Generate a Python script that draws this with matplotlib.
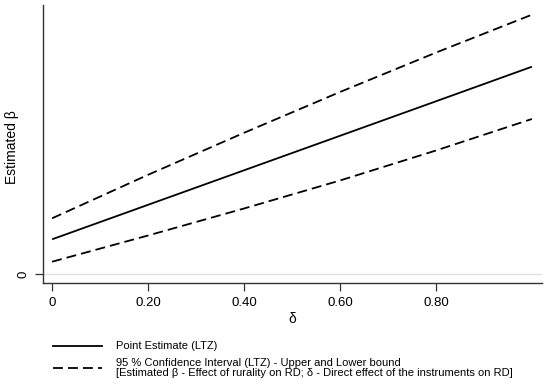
import matplotlib
matplotlib.use("Agg")
import matplotlib.pyplot as plt
from matplotlib.lines import Line2D

delta = [0.0, 0.2, 0.4, 0.6, 0.8, 1.0]
point_est = [0.347, 0.692, 1.037, 1.382, 1.727, 2.073]
upper_ci = [0.557, 0.992, 1.412, 1.820, 2.214, 2.593]
lower_ci = [0.123, 0.385, 0.655, 0.935, 1.235, 1.550]
xticks = [0, 0.2, 0.4, 0.6, 0.8]
xticklabels = ["0", "0.20", "0.40", "0.60", "0.80"]

plt.rcParams['font.family'] = ['Liberation Sans', 'DejaVu Sans']

fig = plt.figure(figsize=(5.5, 3.84), dpi=100)
ax = fig.add_axes([43/550, (384-283)/384, (542-43)/550, (283-5)/384])

ax.axhline(0, color='#e3e3e3', lw=1.0, zorder=0)
ax.plot(delta, point_est, color='black', lw=1.3, solid_capstyle='butt')
ax.plot(delta, upper_ci, color='black', lw=1.3, dashes=(5.5, 2.8))
ax.plot(delta, lower_ci, color='black', lw=1.3, dashes=(5.5, 2.8))

ax.set_xlim(-0.019, 1.021)
ax.set_ylim(-0.09, 2.69)
ax.set_xticks(xticks)
ax.set_xticklabels(xticklabels, fontsize=9.5)
ax.set_yticks([0])
ax.set_yticklabels(["0"], fontsize=9.5, rotation=90, va='center')
ax.tick_params(length=6, width=0.9, color='#333333', pad=4)
for s in ['top', 'right']:
    ax.spines[s].set_visible(False)
for s in ['left', 'bottom']:
    ax.spines[s].set_color('#333333')
    ax.spines[s].set_linewidth(1.0)

ax.set_xlabel("δ", fontsize=10, labelpad=2)
ax.set_ylabel("Estimated β", fontsize=10)
ax.yaxis.set_label_coords(-0.048, 0.49)

handles = [Line2D([], [], color='black', lw=1.3),
           Line2D([], [], color='black', lw=1.3, dashes=(5.5, 2.8))]
labels = ["Point Estimate (LTZ)",
          "95 % Confidence Interval (LTZ) - Upper and Lower bound\n"
          "[Estimated β - Effect of rurality on RD; δ - Direct effect of the instruments on RD]"]
leg = fig.legend(handles, labels, loc='upper left', bbox_to_anchor=(49/550, 1 - 337/384),
                 frameon=False, fontsize=8.0, handlelength=4.4, handletextpad=1.25,
                 labelspacing=0.6, borderaxespad=0)
for t in leg.get_texts():
    t.set_linespacing(0.95)

fig.savefig("out.png", dpi=100)
